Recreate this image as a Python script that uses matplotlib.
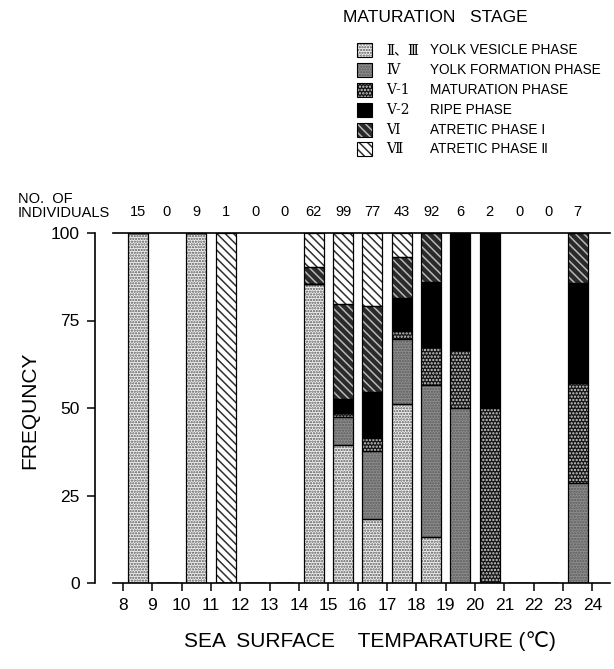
import numpy as np
import matplotlib
matplotlib.use("Agg")
import matplotlib.pyplot as plt
from matplotlib.patches import Rectangle

plt.rcParams['font.family'] = ['Liberation Sans', 'DejaVu Sans', 'Noto Sans CJK JP']
plt.rcParams['hatch.linewidth'] = 1.1

# temperature bins (lower edge, deg C)
temp_bins = [8, 9, 10, 11, 12, 13, 14, 15, 16, 17, 18, 19, 20, 21, 22, 23]

# number of fish in each maturation stage per temperature bin
stage_23 = [15, 0, 9, 0, 0, 0, 53, 39, 14, 22, 12, 0, 0, 0, 0, 0]
stage_4 = [0, 0, 0, 0, 0, 0, 0, 8, 15, 8, 40, 3, 0, 0, 0, 2]
stage_5_1 = [0, 0, 0, 0, 0, 0, 0, 1, 3, 1, 10, 1, 1, 0, 0, 2]
stage_5_2 = [0, 0, 0, 0, 0, 0, 0, 4, 10, 4, 17, 2, 1, 0, 0, 2]
stage_6 = [0, 0, 0, 0, 0, 0, 3, 27, 19, 5, 13, 0, 0, 0, 0, 1]
stage_7 = [0, 0, 0, 1, 0, 0, 6, 20, 16, 3, 0, 0, 0, 0, 0, 0]

numerals = [u'Ⅱ、Ⅲ', u'Ⅳ', u'Ⅴ-1', u'Ⅴ-2', u'Ⅵ', u'Ⅶ']
names = ['YOLK VESICLE PHASE', 'YOLK FORMATION PHASE', 'MATURATION PHASE',
         'RIPE PHASE', 'ATRETIC PHASE Ⅰ', 'ATRETIC PHASE Ⅱ']

# face colour, hatch, hatch colour
styles = [('#f2f2f2', '......', '#555555'),
          ('#8e8e8e', '......', '#5a5a5a'),
          ('#151515', '.....', '#d0d0d0'),
          ('#000000', None, '#000000'),
          ('#2a2a2a', '\\\\\\\\', '#b8b8b8'),
          ('#ffffff', '\\\\\\\\', '#303030')]

stages = np.array([stage_23, stage_4, stage_5_1, stage_5_2, stage_6, stage_7], dtype=float)
totals = stages.sum(axis=0)
pct = np.where(totals > 0, stages / np.where(totals > 0, totals, 1) * 100, 0)

W, H = 614, 669
fig = plt.figure(figsize=(W / 100, H / 100), dpi=100)
ax = fig.add_axes([113 / W, 1 - 583 / H, (610 - 113) / W, (583 - 233) / H])

x = np.array(temp_bins) + 0.5
bw = 0.68
bottom = np.zeros(len(x))
for i in range(len(stages)):
    fc, hatch, hc = styles[i]
    ax.bar(x, pct[i], bw, bottom=bottom, color=fc, edgecolor=hc, linewidth=0,
           hatch=hatch, zorder=2)
    ax.bar(x, pct[i], bw, bottom=bottom, fill=False, edgecolor='black',
           linewidth=0.9, zorder=3)
    bottom += pct[i]

ax.set_xlim(7.66, 24.6)
ax.set_ylim(0, 100)
ax.set_xticks(range(8, 25))
ax.set_yticks([0, 25, 50, 75, 100])
ax.spines['right'].set_visible(False)
ax.spines['left'].set_position(('outward', 13))
for s in ['left', 'bottom', 'top']:
    ax.spines[s].set_linewidth(1.2)
ax.tick_params(direction='out', length=6, width=1.1, labelsize=12.5, pad=5)

# counts above bars
for xi, n in zip(x, totals):
    ax.text(xi, 106, '%d' % n, ha='center', va='center', fontsize=10.5, clip_on=False)

fig.text(18 / W, 1 - 199 / H, 'NO.  OF', fontsize=10.5, va='center', ha='left')
fig.text(18 / W, 1 - 213 / H, 'INDIVIDUALS', fontsize=10.5, va='center', ha='left')

fig.text(30 / W, 1 - 410 / H, 'FREQUNCY', rotation=90, fontsize=15,
         ha='center', va='center')
fig.text(370 / W, 1 - 641 / H, u'SEA  SURFACE    TEMPARATURE (℃)', fontsize=15,
         ha='center', va='center')

# legend
lax = fig.add_axes([0, 0, 1, 1])
lax.set_xlim(0, W)
lax.set_ylim(H, 0)
lax.axis('off')
lax.text(343, 18, 'MATURATION   STAGE', fontsize=12.5, va='center', ha='left')
rows = [50, 70, 90, 110, 130, 149]
for i, yy in enumerate(rows):
    fc, hatch, hc = styles[i]
    lax.add_patch(Rectangle((357, yy - 7), 15, 14, facecolor=fc, edgecolor=hc,
                            linewidth=0, hatch=hatch))
    lax.add_patch(Rectangle((357, yy - 7), 15, 14, fill=False, edgecolor='black',
                            linewidth=0.8))
    lax.text(386, yy, numerals[i], fontsize=10, va='center', ha='left',
             family=['DejaVu Serif', 'Noto Sans CJK JP'])
    lax.text(430, yy, names[i], fontsize=9.8, va='center', ha='left',
             family=['Liberation Sans', 'DejaVu Sans', 'Noto Sans CJK JP'])

fig.savefig('out.png', dpi=100)
